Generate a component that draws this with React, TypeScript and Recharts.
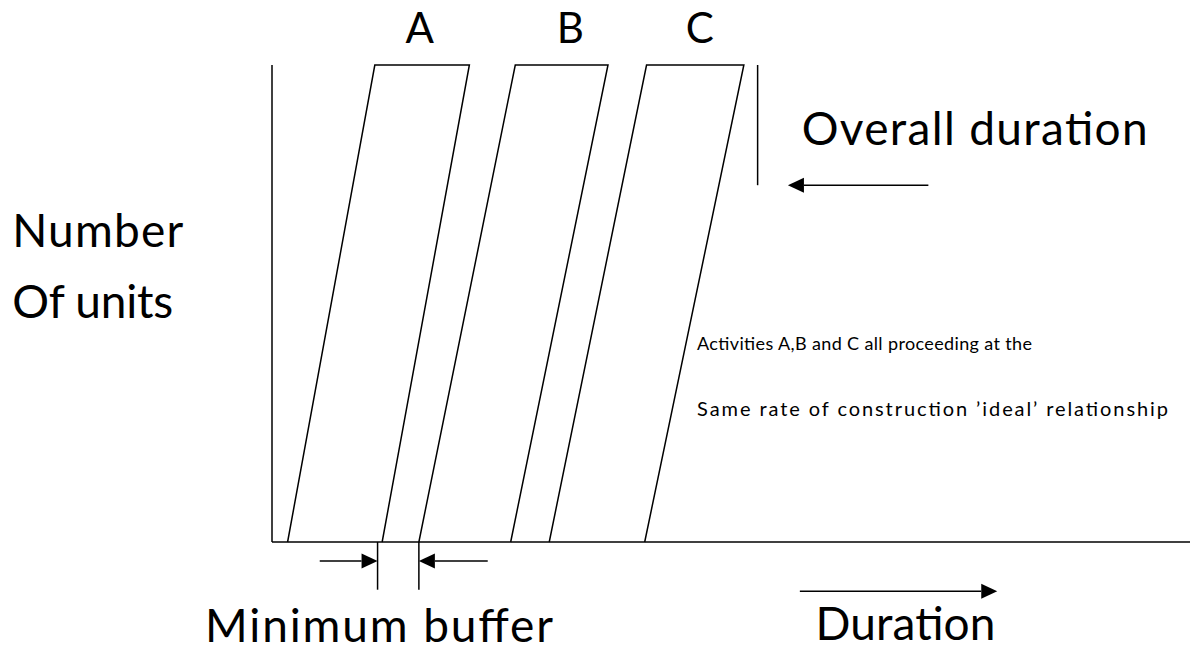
import React from 'react';
import { ComposedChart, Line, XAxis, YAxis, ReferenceLine, ReferenceDot } from 'recharts';

// line of balance: x in weeks, y in number of units
const activities = ['A', 'B', 'C'];
const startBottom = [1.7, 16.0, 30.2];
const startTop = [11.2, 26.5, 40.8];
const finishTop = [21.5, 36.6, 51.4];
const finishBottom = [12.0, 26.0, 40.6];
const totalUnits = 10;
const maxWeeks = 100;

const labelX = [16.1, 32.5, 46.6];
const labelY = 10.46;

const overallEnd = 52.9;
const overallLow = 7.48;
const overallArrow = [71.5, 56.2];

const bufferFrom = 11.5;
const bufferTo = 16.0;
const bufferDepth = -1.0;
const bufferArrowY = -0.4;
const bufferArrowLeft = [5.2, 11.5];
const bufferArrowRight = [23.5, 16.0];

const durationArrowY = -1.03;
const durationArrow = [57.5, 79.0];

const notes = [
  { text: 'Overall duration', x: 57.7, y: 8.32, size: 46, w: 346 },
  { text: 'Number', x: -28.3, y: 6.18, size: 46, w: 171 },
  { text: 'Of units', x: -28.3, y: 4.7, size: 46, w: 161 },
  { text: 'Activities A,B and C all proceeding at the', x: 46.3, y: 4.03, size: 18, w: 335 },
  { text: 'Same rate of construction \u2019ideal\u2019 relationship', x: 46.3, y: 2.64, size: 20, w: 471 },
  { text: 'Minimum buffer', x: -7.3, y: -2.1, size: 46, w: 348 },
  { text: 'Duration', x: 59.2, y: -2.05, size: 46, w: 180 },
];

const FONT = 'Lato, "Open Sans", sans-serif';

const series = activities.map((name, i) => ({
  name,
  data: [
    { t: startBottom[i], u: 0 },
    { t: startTop[i], u: totalUnits },
    { t: finishTop[i], u: totalUnits },
    { t: finishBottom[i], u: 0 },
  ],
}));

const Arrow = (props: any) => {
  const { x1, y1, x2, y2 } = props;
  const dx = x2 - x1;
  const dy = y2 - y1;
  const len = Math.sqrt(dx * dx + dy * dy) || 1;
  const ux = dx / len;
  const uy = dy / len;
  const hl = 16;
  const hw = 7.5;
  const bx = x2 - ux * hl;
  const by = y2 - uy * hl;
  return (
    <g>
      <line x1={x1} y1={y1} x2={bx} y2={by} stroke="#000" strokeWidth={1.5} />
      <polygon
        points={`${x2},${y2} ${bx - uy * hw},${by + ux * hw} ${bx + uy * hw},${by - ux * hw}`}
        fill="#000"
      />
    </g>
  );
};

const Plain = (props: any) => {
  const { x1, y1, x2, y2 } = props;
  return <line x1={x1} y1={y1} x2={x2} y2={y2} stroke="#000" strokeWidth={1.5} />;
};

export default function App() {
  return (
    <div style={{ position: 'absolute', left: 0, top: 0, background: '#fff' }}>
      <ComposedChart
        width={1190}
        height={657}
        margin={{ top: 65, right: 0, bottom: 115, left: 272 }}
      >
        <XAxis type="number" dataKey="t" domain={[0, maxWeeks]} height={0} hide />
        <YAxis type="number" dataKey="u" domain={[0, totalUnits]} width={0} hide />
        {/* axes drawn as plain segments */}
        <ReferenceLine
          segment={[{ x: 0, y: 0 }, { x: 0, y: totalUnits }]}
          ifOverflow="visible"
          shape={Plain}
        />
        <ReferenceLine
          segment={[{ x: 0, y: 0 }, { x: maxWeeks, y: 0 }]}
          ifOverflow="visible"
          shape={Plain}
        />
        {series.map((s) => (
          <Line
            key={s.name}
            data={s.data}
            dataKey="u"
            type="linear"
            stroke="#000"
            strokeWidth={1.5}
            dot={false}
            isAnimationActive={false}
          />
        ))}
        <ReferenceLine
          segment={[{ x: overallEnd, y: totalUnits }, { x: overallEnd, y: overallLow }]}
          ifOverflow="visible"
          shape={Plain}
        />
        <ReferenceLine
          segment={[{ x: overallArrow[0], y: overallLow }, { x: overallArrow[1], y: overallLow }]}
          ifOverflow="visible"
          shape={Arrow}
        />
        <ReferenceLine
          segment={[{ x: bufferFrom, y: 0 }, { x: bufferFrom, y: bufferDepth }]}
          ifOverflow="visible"
          shape={Plain}
        />
        <ReferenceLine
          segment={[{ x: bufferTo, y: 0 }, { x: bufferTo, y: bufferDepth }]}
          ifOverflow="visible"
          shape={Plain}
        />
        <ReferenceLine
          segment={[{ x: bufferArrowLeft[0], y: bufferArrowY }, { x: bufferArrowLeft[1], y: bufferArrowY }]}
          ifOverflow="visible"
          shape={Arrow}
        />
        <ReferenceLine
          segment={[{ x: bufferArrowRight[0], y: bufferArrowY }, { x: bufferArrowRight[1], y: bufferArrowY }]}
          ifOverflow="visible"
          shape={Arrow}
        />
        <ReferenceLine
          segment={[{ x: durationArrow[0], y: durationArrowY }, { x: durationArrow[1], y: durationArrowY }]}
          ifOverflow="visible"
          shape={Arrow}
        />
        {activities.map((name, i) => (
          <ReferenceDot
            key={'lbl' + name}
            x={labelX[i]}
            y={labelY}
            r={0}
            ifOverflow="visible"
            shape={(p: any) => (
              <text x={p.cx} y={p.cy} textAnchor="middle" fontFamily={FONT} fontSize={42} fill="#000">
                {name}
              </text>
            )}
          />
        ))}
        {notes.map((n) => (
          <ReferenceDot
            key={n.text}
            x={n.x}
            y={n.y}
            r={0}
            ifOverflow="visible"
            shape={(p: any) => (
              <text
                x={p.cx}
                y={p.cy}
                textAnchor="start"
                fontFamily={FONT}
                fontSize={n.size}
                textLength={n.w}
                lengthAdjust="spacing"
                fill="#000"
              >
                {n.text}
              </text>
            )}
          />
        ))}
      </ComposedChart>
    </div>
  );
}
